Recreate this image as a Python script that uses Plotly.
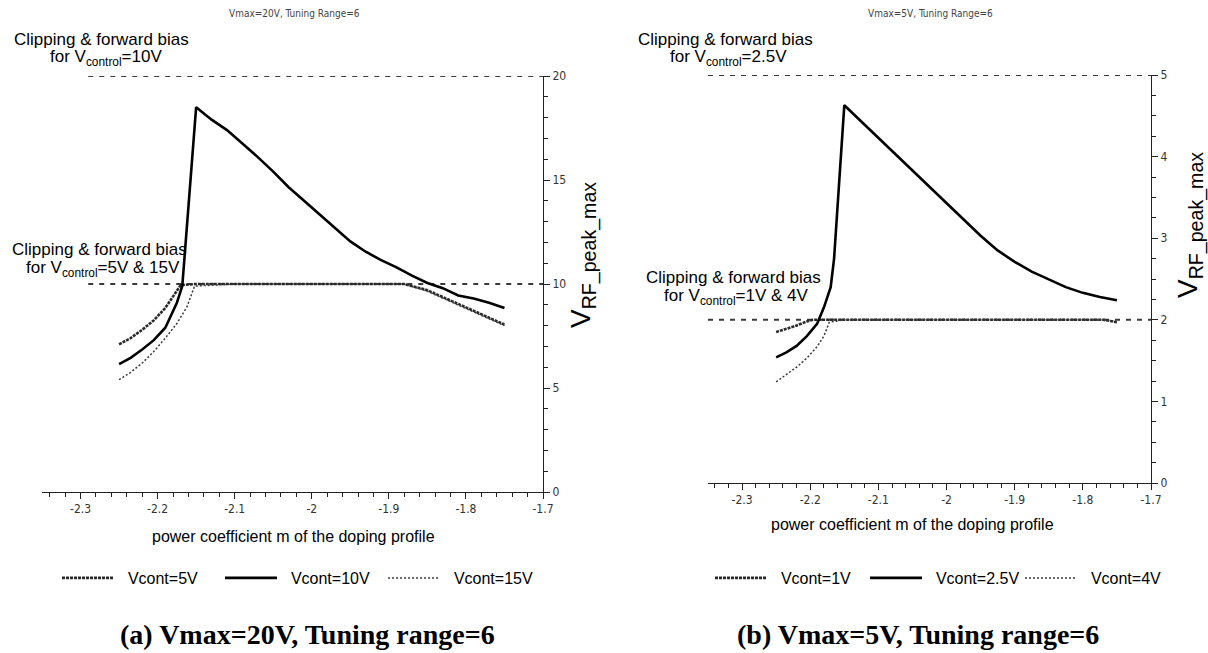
import plotly.graph_objects as go

W, H = 1208, 653

# ---------------- data (a) Vmax = 20 V ----------------
xa_5 = [-2.25, -2.235, -2.22, -2.205, -2.19, -2.17, -2.15, -2.1, -2.0, -1.9, -1.88, -1.85, -1.82, -1.79, -1.77, -1.75]
va_5 = [7.1, 7.4, 7.8, 8.25, 8.85, 9.95, 10.0, 10.0, 10.0, 10.0, 10.0, 9.7, 9.2, 8.7, 8.35, 8.05]

xa_10 = [-2.25, -2.235, -2.22, -2.205, -2.19, -2.175, -2.168, -2.164, -2.15, -2.13, -2.11, -2.09, -2.07,
         -2.05, -2.03, -2.01, -1.99, -1.97, -1.95, -1.93, -1.91, -1.89, -1.87, -1.85, -1.83, -1.81,
         -1.79, -1.77, -1.75]
va_10 = [6.15, 6.45, 6.85, 7.3, 7.9, 9.1, 9.9, 11.8, 18.5, 17.9, 17.4, 16.75, 16.1,
         15.4, 14.65, 14.0, 13.35, 12.7, 12.05, 11.55, 11.15, 10.8, 10.4, 10.05, 9.8, 9.45,
         9.3, 9.1, 8.85]

xa_15 = [-2.25, -2.235, -2.22, -2.205, -2.19, -2.175, -2.162, -2.152, -2.1, -2.0, -1.9, -1.88, -1.85,
         -1.82, -1.79, -1.77, -1.75]
va_15 = [5.4, 5.75, 6.2, 6.75, 7.4, 8.1, 8.9, 9.9, 10.0, 10.0, 10.0, 10.0, 9.65,
         9.15, 8.65, 8.3, 8.0]

xa_ref = [-2.29, -1.7]
va_ref_top = [20, 20]
va_ref_mid = [10, 10]

# ---------------- data (b) Vmax = 5 V ----------------
xb_1 = [-2.25, -2.235, -2.22, -2.205, -2.196, -2.15, -2.0, -1.85, -1.77, -1.75]
vb_1 = [1.85, 1.89, 1.93, 1.98, 2.0, 2.0, 2.0, 2.0, 2.0, 1.97]

xb_25 = [-2.25, -2.235, -2.22, -2.205, -2.19, -2.18, -2.17, -2.165, -2.15, -2.125, -2.1, -2.075,
         -2.05, -2.025, -2.0, -1.975, -1.95, -1.925, -1.9, -1.875, -1.85, -1.825, -1.8, -1.775, -1.75]
vb_25 = [1.54, 1.6, 1.68, 1.8, 1.95, 2.15, 2.4, 2.75, 4.63, 4.43, 4.23, 4.03,
         3.83, 3.63, 3.43, 3.23, 3.03, 2.85, 2.71, 2.59, 2.49, 2.4, 2.33, 2.28, 2.24]

xb_4 = [-2.25, -2.235, -2.22, -2.205, -2.19, -2.18, -2.172, -2.15, -2.0, -1.85, -1.77, -1.75]
vb_4 = [1.24, 1.33, 1.42, 1.53, 1.67, 1.8, 1.97, 2.0, 2.0, 2.0, 2.0, 1.98]

xb_ref = [-2.35, -1.7]
vb_ref_top = [5, 5]
vb_ref_mid = [2, 2]

x_ticks = [-2.3, -2.2, -2.1, -2.0, -1.9, -1.8, -1.7]
x_ticktext = ["-2.3", "-2.2", "-2.1", "-2", "-1.9", "-1.8", "-1.7"]
ya_ticks = [0, 5, 10, 15, 20]
yb_ticks = [0, 1, 2, 3, 4, 5]

# ---------------- styles ----------------
S_HATCH = dict(color="#2a2a2a", width=2.6, dash="3px,1px")
S_SOLID = dict(color="#000000", width=2.6)
S_DOT = dict(color="#3a3a3a", width=1.5, dash="2px,2px")
S_REF = dict(color="#3a3a3a", width=2, dash="5px,6px")

NB = "\u00a0\u00a0"


def px(x):
    return x / W


def py(y):
    return 1 - y / H


fig = go.Figure()

# plot (a)
fig.add_trace(go.Scatter(x=xa_ref, y=va_ref_top, mode="lines", line=S_REF, showlegend=False, xaxis="x", yaxis="y"))
fig.add_trace(go.Scatter(x=xa_ref, y=va_ref_mid, mode="lines", line=S_REF, showlegend=False, xaxis="x", yaxis="y"))
fig.add_trace(go.Scatter(x=xa_5, y=va_5, mode="lines", line=S_HATCH, name=NB + "Vcont=5V", legend="legend", xaxis="x", yaxis="y"))
fig.add_trace(go.Scatter(x=xa_10, y=va_10, mode="lines", line=S_SOLID, name=NB + "Vcont=10V", legend="legend", xaxis="x", yaxis="y"))
fig.add_trace(go.Scatter(x=xa_15, y=va_15, mode="lines", line=S_DOT, name=NB + "Vcont=15V", legend="legend", xaxis="x", yaxis="y"))

# plot (b)
fig.add_trace(go.Scatter(x=xb_ref, y=vb_ref_top, mode="lines", line=S_REF, showlegend=False, xaxis="x2", yaxis="y2"))
fig.add_trace(go.Scatter(x=xb_ref, y=vb_ref_mid, mode="lines", line=S_REF, showlegend=False, xaxis="x2", yaxis="y2"))
fig.add_trace(go.Scatter(x=xb_1, y=vb_1, mode="lines", line=S_HATCH, name=NB + "Vcont=1V", legend="legend2", xaxis="x2", yaxis="y2"))
fig.add_trace(go.Scatter(x=xb_25, y=vb_25, mode="lines", line=S_SOLID, name=NB + "Vcont=2.5V", legend="legend2", xaxis="x2", yaxis="y2"))
fig.add_trace(go.Scatter(x=xb_4, y=vb_4, mode="lines", line=S_DOT, name=NB + "Vcont=4V", legend="legend2", xaxis="x2", yaxis="y2"))

TICKFONT = dict(family="Liberation Sans Narrow, DejaVu Sans Condensed, Arial", size=12, color="#333")


def xaxis_cfg(dom, anchor):
    return dict(domain=dom, range=[-2.35, -1.7], anchor=anchor, showline=True, linecolor="#222", linewidth=1,
                ticks="outside", ticklen=6, tickcolor="#222", tickvals=x_ticks, ticktext=x_ticktext,
                tickfont=TICKFONT, showgrid=False, zeroline=False, fixedrange=True, automargin=False,
                minor=dict(dtick=0.02, tick0=-2.3, ticks="outside", ticklen=4, tickcolor="#222", showgrid=False))


def yaxis_cfg(dom, rng, ticks, mdt, anchor):
    return dict(domain=dom, range=rng, anchor=anchor, side="right", showline=True, linecolor="#222", linewidth=1,
                ticks="outside", ticklen=6, tickcolor="#222", tickvals=ticks, tickfont=TICKFONT,
                showgrid=False, zeroline=False, fixedrange=True, automargin=False,
                minor=dict(dtick=mdt, tick0=0, ticks="outside", ticklen=4, tickcolor="#222", showgrid=False))


LEGFONT = dict(family="Liberation Sans, Arial", size=16, color="#000")

fig.update_layout(
    width=W, height=H, margin=dict(l=0, r=0, t=0, b=0, autoexpand=False),
    paper_bgcolor="white", plot_bgcolor="white",
    font=dict(family="Liberation Sans, Arial", color="#000"),
    xaxis=xaxis_cfg([px(42), px(543)], "y"),
    yaxis=yaxis_cfg([py(492), py(76)], [0, 20], ya_ticks, 1, "x"),
    xaxis2=xaxis_cfg([px(708), px(1151)], "y2"),
    yaxis2=yaxis_cfg([py(483), py(75)], [0, 5], yb_ticks, 0.25, "x2"),
    legend=dict(orientation="h", x=px(57), y=py(578), xanchor="left", yanchor="middle",
                font=LEGFONT, itemwidth=52, entrywidth=96, entrywidthmode="pixels",
                bgcolor="rgba(0,0,0,0)", itemclick=False, itemdoubleclick=False),
    legend2=dict(orientation="h", x=px(710), y=py(578), xanchor="left", yanchor="middle",
                 font=LEGFONT, itemwidth=52, entrywidth=88, entrywidthmode="pixels",
                 bgcolor="rgba(0,0,0,0)", itemclick=False, itemdoubleclick=False),
)

ann = []
SMALL = dict(family="Liberation Sans Narrow, DejaVu Sans Condensed, Arial", size=10, color="#444")
MID = dict(family="Liberation Sans, Arial", size=17, color="#000")
AX = dict(family="Liberation Sans, Arial", size=16, color="#000")
YT = dict(family="Liberation Sans, Arial", size=28, color="#000")
CAP = dict(family="Liberation Serif, Times New Roman, serif", size=28, color="#000")


def add(text, x, y, font, xanchor="center", textangle=0):
    ann.append(dict(text=text, x=px(x), y=py(y), xref="paper", yref="paper", showarrow=False,
                    xanchor=xanchor, yanchor="middle", font=font, textangle=textangle))


add("Vmax=20V, Tuning Range=6", 294, 14, SMALL)
add("Vmax=5V, Tuning Range=6", 930, 14, SMALL)

add("Clipping &amp; forward bias", 12, 40, MID, "left")
add("for V<sub>control</sub>=10V", 48, 58, MID, "left")
add("Clipping &amp; forward bias", 10, 249, MID, "left")
add("for V<sub>control</sub>=5V &amp; 15V", 24, 269, MID, "left")

add("Clipping &amp; forward bias", 636, 40, MID, "left")
add("for V<sub>control</sub>=2.5V", 668, 58, MID, "left")
add("Clipping &amp; forward bias", 644, 277, MID, "left")
add("for V<sub>control</sub>=1V &amp; 4V", 662, 297, MID, "left")

add("power coefficient m of the doping profile", 293, 536, AX)
add("power coefficient m of the doping profile", 912, 524, AX)

add("V<sub>RF_peak_max</sub>", 583, 255, YT, textangle=-90)
add("V<sub>RF_peak_max</sub>", 1190, 225, YT, textangle=-90)

add("<b>(a) Vmax=20V, Tuning range=6</b>", 307, 634, CAP)
add("<b>(b) Vmax=5V, Tuning range=6</b>", 918, 634, CAP)

fig.update_layout(annotations=ann)

fig.write_html("out.html")
